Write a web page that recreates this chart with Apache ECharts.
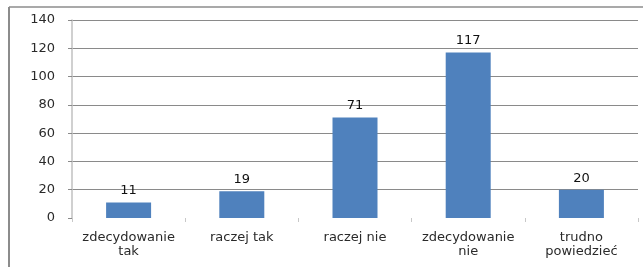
<!DOCTYPE html>
<html>
<head>
    <meta charset="utf-8">
    <title>odpowiedzi</title>
    <script src="https://cdn.jsdelivr.net/npm/echarts@6/dist/echarts.min.js"></script>
    <style>
        html, body { margin: 0; padding: 0; background: #fff; }
    </style>
</head>
<body>

<div id="chart" style="width: 643px;height:267px;"></div>

<script type="text/javascript">
    var categories = ['zdecydowanie\ntak', 'raczej tak', 'raczej nie', 'zdecydowanie\nnie', 'trudno\npowiedzieć'];
    var values = [11, 19, 71, 117, 20];
    var yTicks = [0, 20, 40, 60, 80, 100, 120, 140];

    var chart = echarts.init(document.getElementById('chart'));
    var font = 'DejaVu Sans, Verdana, sans-serif';

    chart.setOption({
        animation: false,
        grid: { left: 72, right: 5, top: 20, bottom: 49 },
        graphic: [
            // frame round the chart (only top and left edge are in view)
            { type: 'line', shape: { x1: 9, y1: 7, x2: 643, y2: 7 }, style: { stroke: '#8c8c8c', lineWidth: 1.5 } },
            { type: 'line', shape: { x1: 9, y1: 7, x2: 9, y2: 267 }, style: { stroke: '#8c8c8c', lineWidth: 2 } }
        ],
        xAxis: {
            type: 'category',
            data: categories,
            axisLine: { show: false },
            axisTick: { show: true, length: 4, lineStyle: { color: '#c8c8c8' } },
            axisLabel: {
                fontFamily: font,
                fontSize: 13,
                color: '#2a2a2a',
                margin: 13,
                lineHeight: 14,
                interval: 0
            }
        },
        yAxis: {
            type: 'value',
            min: yTicks[0],
            max: yTicks[yTicks.length - 1],
            interval: 20,
            axisLine: { show: true, lineStyle: { color: '#c0c0c0', width: 1.5 } },
            axisTick: { show: true, length: 4, lineStyle: { color: '#8a8a8a' } },
            axisLabel: {
                fontFamily: font,
                fontSize: 13,
                color: '#2a2a2a',
                margin: 17
            },
            splitLine: { show: true, showMinLine: false, lineStyle: { color: '#8a8a8a', width: 1 } }
        },
        series: [{
            type: 'bar',
            data: values,
            barWidth: 45,
            itemStyle: { color: '#4f81bd' },
            label: {
                show: true,
                position: 'top',
                distance: 5,
                fontFamily: font,
                fontSize: 13,
                color: '#111'
            }
        }]
    });
</script>
</body>
</html>
